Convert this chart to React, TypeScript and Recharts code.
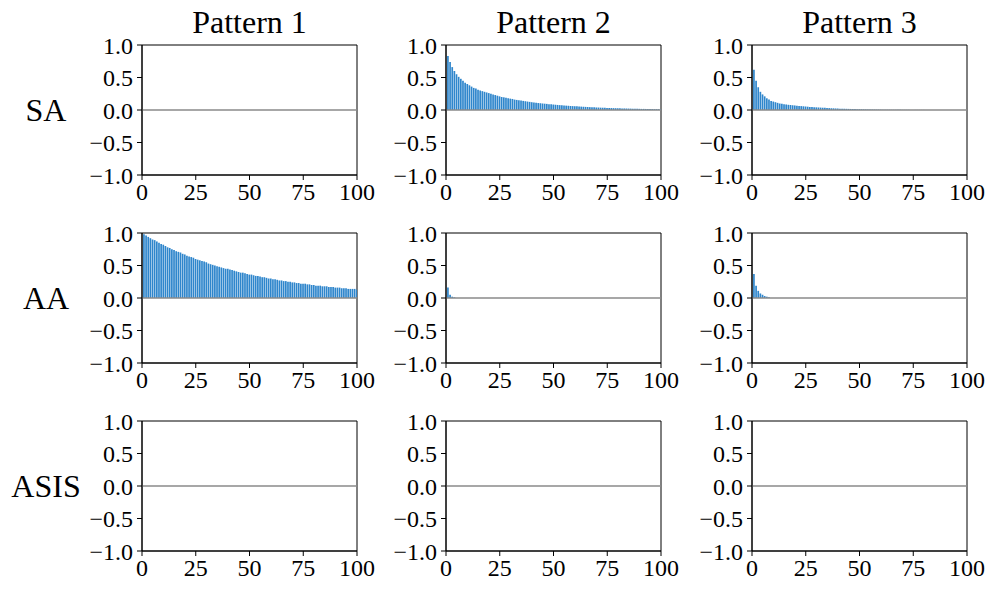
import React from "react";
import { BarChart, Bar, XAxis, YAxis, ReferenceLine, ReferenceArea } from "recharts";

const patterns = ["Pattern 1", "Pattern 2", "Pattern 3"];
const rowNames = ["SA", "AA", "ASIS"];
const xTicks = [0, 25, 50, 75, 100];
const yTicks = [-1, -0.5, 0, 0.5, 1];

// autocorrelation per lag, starting at lag 1
const saP1: number[] = [];
const saP2 = [
  0.83, 0.74, 0.66, 0.6, 0.55, 0.51, 0.48, 0.45, 0.42, 0.4,
  0.38, 0.36, 0.34, 0.33, 0.31, 0.3, 0.29, 0.28, 0.27, 0.26,
  0.25, 0.24, 0.23, 0.22, 0.21, 0.2, 0.195, 0.19, 0.18, 0.175,
  0.17, 0.16, 0.155, 0.15, 0.145, 0.14, 0.135, 0.13, 0.125, 0.12,
  0.115, 0.11, 0.107, 0.104, 0.1, 0.097, 0.094, 0.09, 0.087, 0.084,
  0.081, 0.078, 0.075, 0.072, 0.07, 0.067, 0.065, 0.062, 0.06, 0.058,
  0.056, 0.054, 0.052, 0.05, 0.048, 0.046, 0.044, 0.042, 0.041, 0.039,
  0.038, 0.036, 0.035, 0.034, 0.032, 0.031, 0.03, 0.029, 0.028, 0.027,
  0.026, 0.025, 0.024, 0.023, 0.022, 0.021, 0.02, 0.02, 0.019, 0.018,
  0.017, 0.017, 0.016, 0.015, 0.015, 0.014, 0.013, 0.013, 0.012, 0.012,
];
const saP3 = [
  0.62, 0.45, 0.35, 0.28, 0.24, 0.21, 0.18, 0.16, 0.14, 0.13,
  0.12, 0.11, 0.1, 0.095, 0.09, 0.085, 0.08, 0.077, 0.073, 0.07,
  0.066, 0.063, 0.06, 0.057, 0.054, 0.051, 0.048, 0.046, 0.043, 0.041,
  0.039, 0.037, 0.035, 0.033, 0.031, 0.029, 0.027, 0.026, 0.024, 0.023,
  0.021, 0.02, 0.019, 0.018, 0.017, 0.016, 0.015, 0.014, 0.013, 0.012,
  0.011, 0.01, 0.009, 0.009, 0.008, 0.007, 0.007, 0.006, 0.006, 0.005,
  0.005, 0.004, 0.004, 0.004, 0.003, 0.003, 0.003, 0.003, 0.002, 0.002,
  0.002, 0.002, 0.002, 0.001, 0.001, 0.001, 0.001, 0.001, 0.001, 0.001,
];
const aaP1 = [
  0.98, 0.96, 0.94, 0.92, 0.9, 0.89, 0.87, 0.85, 0.83, 0.82,
  0.8, 0.78, 0.77, 0.75, 0.74, 0.72, 0.71, 0.7, 0.68, 0.67,
  0.65, 0.64, 0.63, 0.62, 0.6, 0.59, 0.58, 0.57, 0.56, 0.55,
  0.53, 0.52, 0.51, 0.5, 0.49, 0.48, 0.47, 0.46, 0.45, 0.45,
  0.44, 0.43, 0.42, 0.41, 0.4, 0.39, 0.39, 0.38, 0.37, 0.36,
  0.36, 0.35, 0.34, 0.34, 0.33, 0.32, 0.32, 0.31, 0.3, 0.3,
  0.29, 0.29, 0.28, 0.27, 0.27, 0.26, 0.26, 0.25, 0.25, 0.24,
  0.24, 0.23, 0.23, 0.22, 0.22, 0.22, 0.21, 0.21, 0.2, 0.2,
  0.19, 0.19, 0.19, 0.18, 0.18, 0.18, 0.17, 0.17, 0.17, 0.16,
  0.16, 0.16, 0.15, 0.15, 0.15, 0.14, 0.14, 0.14, 0.14, 0.13,
];
const aaP2 = [0.16, 0.05, 0.02, 0.01];
const aaP3 = [0.37, 0.19, 0.11, 0.07, 0.05, 0.03, 0.02, 0.01];
const asisP1: number[] = [];
const asisP2: number[] = [];
const asisP3: number[] = [];

const grid = [
  [saP1, saP2, saP3],
  [aaP1, aaP2, aaP3],
  [asisP1, asisP2, asisP3],
];

const colLeft = [142, 446, 752];
const rowTop = [45, 233, 421];
const plotW = 215;
const plotH = 130;
const padL = 70;
const padT = 20;
const padR = 22;
const padB = 40;

const font = "'Liberation Serif', 'Times New Roman', serif";
const tickStyle = { fill: "#000", fontSize: 24, fontFamily: font };

const fmtY = (v: number) => {
  const s = Math.abs(v).toFixed(1);
  return v < 0 ? "\u2212" + s : s;
};

function Panel({ values }: { values: number[] }) {
  const data = values.map((v, i) => ({ lag: i + 1, acf: v }));
  return (
    <BarChart
      width={padL + plotW + padR}
      height={padT + plotH + padB}
      data={data}
      margin={{ top: padT, right: padR, bottom: 0, left: 0 }}
      style={{ fontFamily: font }}
    >
      <XAxis
        type="number"
        dataKey="lag"
        domain={[0, 100]}
        ticks={xTicks}
        allowDataOverflow
        height={padB}
        tickSize={5}
        tickMargin={3}
        tick={tickStyle}
        stroke="#000"
        interval={0}
      />
      <YAxis
        type="number"
        domain={[-1, 1]}
        ticks={yTicks}
        allowDataOverflow
        width={padL}
        tickSize={5}
        tickMargin={4}
        tick={tickStyle}
        tickFormatter={fmtY}
        stroke="#000"
        interval={0}
      />
      <Bar dataKey="acf" fill="#2f86cc" barSize={1.7} isAnimationActive={false} />
      <ReferenceLine y={0} stroke="#8a8a8a" strokeWidth={1.5} />
      <ReferenceArea x1={0} x2={100} y1={-1} y2={1} fill="none" stroke="#000" strokeWidth={1} fillOpacity={0} />
    </BarChart>
  );
}

export default function App() {
  return (
    <div
      style={{
        position: "absolute",
        left: 0,
        top: 0,
        width: 996,
        height: 593,
        background: "#fff",
        fontFamily: font,
      }}
    >
      <svg width={996} height={593} style={{ position: "absolute", left: 0, top: 0 }}>
        {patterns.map((p, c) => (
          <text key={p} x={colLeft[c] + plotW / 2} y={33} textAnchor="middle" fontSize={32} fontFamily={font} fill="#000">
            {p}
          </text>
        ))}
        {rowNames.map((r, i) => (
          <text key={r} x={46} y={rowTop[i] + plotH / 2 + 11} textAnchor="middle" fontSize={32} fontFamily={font} fill="#000">
            {r}
          </text>
        ))}
      </svg>
      {grid.map((row, r) =>
        row.map((vals, c) => (
          <div
            key={`${r}-${c}`}
            style={{ position: "absolute", left: colLeft[c] - padL, top: rowTop[r] - padT }}
          >
            <Panel values={vals} />
          </div>
        ))
      )}
    </div>
  );
}
